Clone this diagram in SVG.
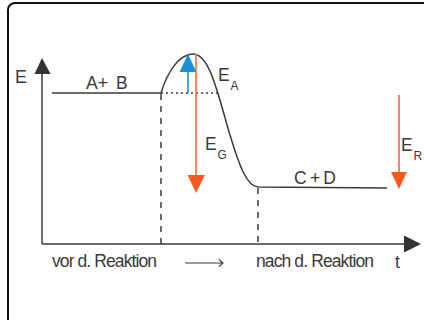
<svg xmlns="http://www.w3.org/2000/svg" width="424" height="320" viewBox="0 0 424 320">
<style>
.ln{fill:none;stroke:#3a3a3a;stroke-width:1.5}
.dash{fill:none;stroke:#3a3a3a;stroke-width:1.5;stroke-dasharray:6 6}
.dot{fill:none;stroke:#3a3a3a;stroke-width:1.3;stroke-dasharray:2 3}
.or{stroke:#f26a3c;stroke-width:1.6;fill:none}
.orh{fill:#fa5a1e}
.bl{stroke:#1b8fd8;stroke-width:1.6;fill:none}
.blh{fill:#1b8fd8}
.ax{fill:#333}
text{font-family:"Liberation Sans",Arial,sans-serif;fill:#3a3a3a}
.big{font-size:17.5px}
.sub{font-size:12px}
.lbl{font-size:17.5px}
</style>
<rect x="8" y="3" width="440" height="340" rx="7" fill="#fff" stroke="#111" stroke-width="2"/>
<g id="axes">
<line class="ln" x1="42" y1="244" x2="42" y2="70"/>
<polygon class="ax" points="42,58 34.5,74 50.5,74"/>
<line class="ln" x1="42" y1="244" x2="408" y2="244"/>
<polygon class="ax" points="421,244 404,235.5 404,252.5"/>
<text class="big" x="15" y="83" style="font-size:18px">E</text>
<text class="big" x="395" y="268">t</text>
</g>
<g id="connectors">
<path class="ln" d="M52,93 L161,93 C168,70 180,54 193,54 C210,54 218,95 230,135 C240,168 247,186 258,187 L387,188"/>
<line class="dot" x1="161" y1="93" x2="218" y2="93"/>
<line class="dash" x1="161" y1="94" x2="161" y2="244"/>
<line class="dash" x1="258" y1="188" x2="258" y2="244"/>
</g>
<g id="ea">
<line class="bl" x1="188" y1="93" x2="188" y2="70"/>
<polygon class="blh" points="188,54 179.5,72 196.5,72"/>
<text class="big" x="218" y="81">E</text>
<text class="sub" x="230.5" y="90">A</text>
</g>
<g id="eg">
<line class="or" x1="196" y1="54" x2="196" y2="177"/>
<polygon class="orh" points="196,193 187.5,175 205,175"/>
<text class="big" x="205" y="150">E</text>
<text class="sub" x="217.5" y="159">G</text>
</g>
<g id="er">
<line class="or" x1="399" y1="95" x2="399" y2="174"/>
<polygon class="orh" points="399,189 391,172 407,172"/>
<text class="big" x="401" y="151">E</text>
<text class="sub" x="413.5" y="160">R</text>
</g>
<g id="labels">
<text class="lbl" x="86" y="89">A+<tspan x="116">B</tspan></text>
<text class="lbl" x="294" y="184" textLength="42" lengthAdjust="spacing">C + D</text>
<text class="lbl" x="52" y="267" textLength="105" lengthAdjust="spacing">vor d. Reaktion</text>
<text class="lbl" x="256" y="267" textLength="118" lengthAdjust="spacing">nach d. Reaktion</text>
<path class="ln" style="stroke-width:1.1" d="M185,263 L223,263 M219,259.5 L223,263 L219,266.5"/>
</g>
</svg>
